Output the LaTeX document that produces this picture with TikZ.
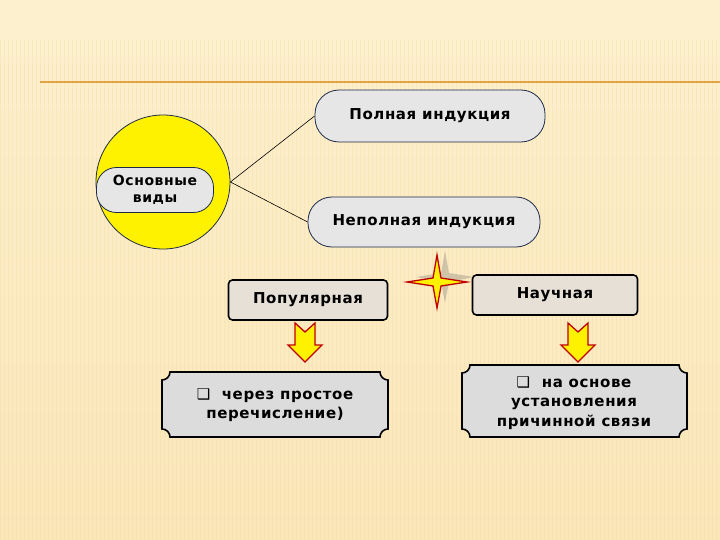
\documentclass[tikz,border=0pt]{standalone}
\usepackage{fontspec}
\setmainfont{DejaVu Sans}[LetterSpace=4]
\begin{document}
\begin{tikzpicture}[x=1pt,y=-1pt,
  pill/.style={draw=navyb, line width=0.8pt, fill=pillgray, rounded corners=24pt, font=\bfseries\fontsize{15}{17}\selectfont, inner sep=0pt},
  tagbox/.style={draw=black, line width=1.6pt, fill=tagfill, rounded corners=4pt, font=\bfseries\fontsize{15}{17}\selectfont, inner sep=0pt},
  plaque/.style={draw=black, line width=1.6pt, fill=plaquefill},
  btext/.style={font=\bfseries\fontsize{15}{19.5}\selectfont, align=center, inner sep=0pt},
  downarrow/.style={draw=arrred, line width=1.3pt, fill=yellow, line join=miter},
  conn/.style={draw=black, line width=0.6pt}
]
\definecolor{bgtop}{HTML}{FDF0CE}
\definecolor{bgbot}{HTML}{FBE6B8}
\definecolor{navyb}{HTML}{1F2A48}
\definecolor{pillgray}{HTML}{E6E6E6}
\definecolor{tagfill}{HTML}{E6E0D7}
\definecolor{plaquefill}{HTML}{DCDCDC}
\definecolor{arrred}{HTML}{C00000}
\definecolor{rule}{HTML}{E2A445}
\definecolor{stripe}{HTML}{F2D9A0}
\useasboundingbox (0,0) rectangle (720,540);
% background
\fill[bgtop] (0,0) rectangle (720,30);
\shade[top color=bgtop, bottom color=bgbot] (0,30) rectangle (720,540);
\foreach \i in {0,4,...,720} {
  \draw[stripe, line width=0.8pt, opacity=0.35] (\i,40) -- (\i,540);
}
\draw[rule, line width=1.6pt] (40,82) -- (720,82);
% circle
\node[circle, draw=navyb, line width=0.8pt, fill=yellow, minimum size=134pt, inner sep=0pt] (circ) at (163,182) {};
\node[pill, rounded corners=20pt, minimum width=117pt, minimum height=45pt, align=center, font=\bfseries\fontsize{14}{17}\selectfont] (osn) at (155,190) {Основные\\виды};
% pills
\node[pill, minimum width=230pt, minimum height=52pt] (full) at (430,116) {Полная индукция};
\node[pill, minimum width=232pt, minimum height=50pt] (part) at (424,222) {Неполная индукция};
\draw[conn] (circ.east) -- (full.west);
\draw[conn] (circ.east) -- (part.west);
% star
\fill[gray!60!bgbot, opacity=0.6] (445,251) -- (449,273) -- (474,277) -- (449,282) -- (445,303) -- (441,282) -- (416,277) -- (441,273) -- cycle;
\draw[draw=arrred, line width=1.3pt, fill=yellow, line join=miter] (437,255) -- (441,278) -- (467,282) -- (441,286) -- (437,308) -- (433,286) -- (407,282) -- (433,278) -- cycle;
% tags
\node[tagbox, minimum width=159pt, minimum height=40pt] (pop) at (308,300) {Популярная};
\node[tagbox, minimum width=165pt, minimum height=40pt] (sci) at (555,295) {Научная};
% arrows
\foreach \cx/\nm in {305/arrL,578/arrR} {
  \draw[downarrow] (\cx-10,323) -- (\cx,332) -- (\cx+10,323) -- (\cx+10,345) -- (\cx+17,345) -- (\cx,362) -- (\cx-17,345) -- (\cx-10,345) -- cycle;
}
% plaques (concave corners)
\def\r{8}
\def\k{4.4}
\draw[plaque] (162+\r,372) -- (388-\r,372) .. controls (388-\r,372+\k) and (388-\k,372+\r) .. (388,372+\r)
  -- (388,437-\r) .. controls (388-\k,437-\r) and (388-\r,437-\k) .. (388-\r,437)
  -- (162+\r,437) .. controls (162+\r,437-\k) and (162+\k,437-\r) .. (162,437-\r)
  -- (162,372+\r) .. controls (162+\k,372+\r) and (162+\r,372+\k) .. (162+\r,372) -- cycle;
\node[btext] (ptxt) at (275,405) {❑\ \ через простое\\перечисление)};
\draw[plaque] (462+\r,365) -- (687-\r,365) .. controls (687-\r,365+\k) and (687-\k,365+\r) .. (687,365+\r)
  -- (687,437-\r) .. controls (687-\k,437-\r) and (687-\r,437-\k) .. (687-\r,437)
  -- (462+\r,437) .. controls (462+\r,437-\k) and (462+\k,437-\r) .. (462,437-\r)
  -- (462,365+\r) .. controls (462+\k,365+\r) and (462+\r,365+\k) .. (462+\r,365) -- cycle;
\node[btext] (stxt) at (574,403) {❑\ \ на основе\\установления\\причинной связи};
\end{tikzpicture}
\end{document}
